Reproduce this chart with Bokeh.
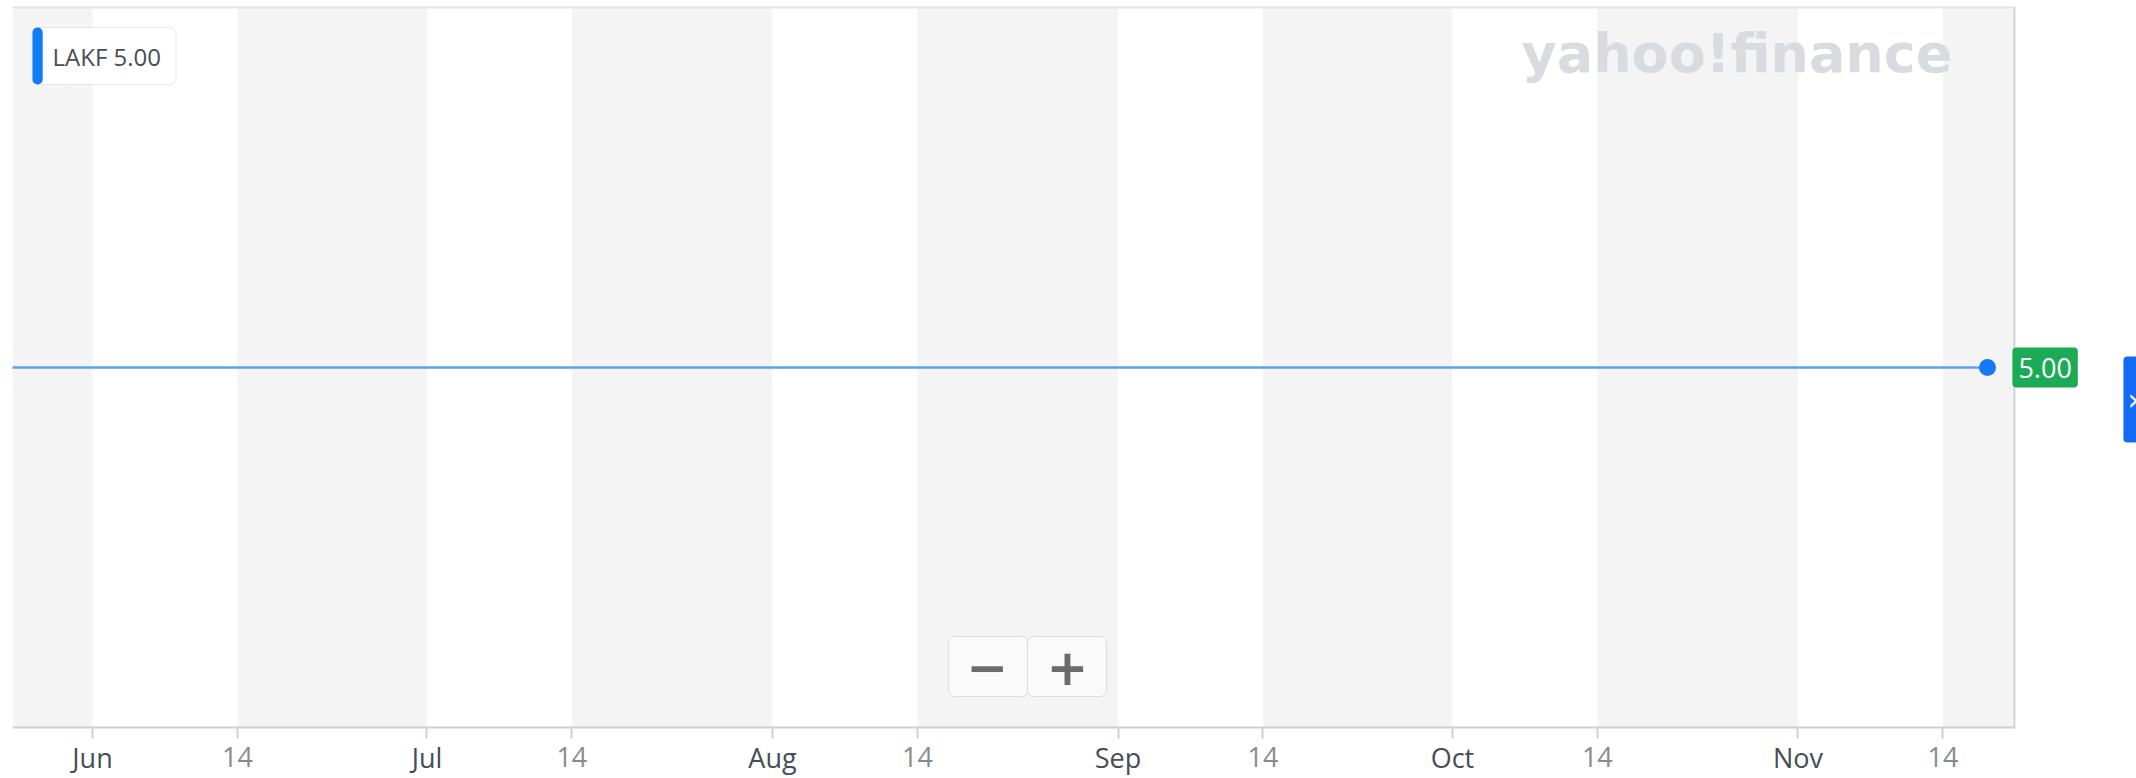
import pandas as pd
from bokeh.plotting import figure
from bokeh.models import Range1d, FixedTicker, DatetimeAxis, Label
from bokeh.embed import file_html
from bokeh.resources import INLINE

# ---------------- data ----------------
SYMBOL = "LAKF"
LAST_PRICE = 5.00
PRICE_DATES = ["2021-05-20", "2021-06-15", "2021-07-15", "2021-08-16",
               "2021-09-15", "2021-10-15", "2021-11-18"]
PRICES = [5.00, 5.00, 5.00, 5.00, 5.00, 5.00, 5.00]
TICK_DATES = ["2021-06-01", "2021-06-14", "2021-07-01", "2021-07-14",
              "2021-08-01", "2021-08-14", "2021-09-01", "2021-09-14",
              "2021-10-01", "2021-10-14", "2021-11-01", "2021-11-14"]
TICK_LABELS = ["Jun", "14", "Jul", "14", "Aug", "14", "Sep", "14",
               "Oct", "14", "Nov", "14"]
X_START = "2021-05-24 19:40"   # left edge of the chart area
X_END = "2021-11-20 10:00"     # right edge of the chart area
VIEW_END = "2021-12-01 08:50"  # right edge of the canvas (room for price tag)
Y_MIN, Y_MAX = 4.0, 6.0


def ms(s):
    return float(pd.Timestamp(s).value // 10**6)


FONT = "Open Sans"

p = figure(width=2136, height=778, x_axis_type="datetime",
           x_range=Range1d(ms(X_START), ms(VIEW_END)),
           y_range=Range1d(Y_MIN, Y_MAX),
           output_backend="svg", toolbar_location=None,
           y_axis_location=None,
           min_border_left=12, min_border_right=0,
           min_border_top=6, min_border_bottom=0)
p.xgrid.visible = False
p.ygrid.visible = False
p.outline_line_color = None
p.background_fill_color = "white"
p.border_fill_color = "white"

# alternating bands (gray between every other pair of tick dates)
bounds = [X_START] + TICK_DATES + [X_END]
lefts = [ms(b) for b in bounds[:-1]][::2]
rights = [ms(b) for b in bounds[1:]][::2]
p.quad(left=lefts, right=rights, bottom=Y_MIN, top=Y_MAX,
       fill_color="#f4f4f4", line_color=None)

# chart-area borders (top, right, bottom axis line)
p.segment(x0=[ms(X_START)], y0=[Y_MAX], x1=[ms(X_END)], y1=[Y_MAX],
          line_color="#e4e4e4", line_width=4)
p.segment(x0=[ms(X_END)], y0=[Y_MIN], x1=[ms(X_END)], y1=[Y_MAX],
          line_color="#d2d2d2", line_width=2)
p.segment(x0=[ms(X_START)], y0=[Y_MIN], x1=[ms(X_END)], y1=[Y_MIN],
          line_color="#cfcfcf", line_width=4)

# price line and last point
xs = [pd.Timestamp(d) for d in PRICE_DATES]
p.line(xs, PRICES, line_color="#5ca0f2", line_width=2.5)
p.scatter([xs[-1]], [PRICES[-1]], size=17, fill_color="#1479f2", line_color=None)

# axis: months (dark) and mid-month days (light)
tick_ms = [ms(d) for d in TICK_DATES]
axA = p.xaxis[0]
axA.ticker = FixedTicker(ticks=tick_ms)
axA.major_label_overrides = {t: (lab if not lab.isdigit() else "")
                             for t, lab in zip(tick_ms, TICK_LABELS)}
axA.axis_line_color = None
axA.major_tick_line_color = "#cfcfcf"
axA.major_tick_line_width = 2
axA.major_tick_in = 0
axA.major_tick_out = 10
axA.minor_tick_line_color = None
axA.major_label_standoff = 0
axA.major_label_text_font = FONT
axA.major_label_text_font_size = "27px"
axA.major_label_text_color = "#464e56"

day_ticks = [t for t, lab in zip(tick_ms, TICK_LABELS) if lab.isdigit()]
axB = DatetimeAxis(ticker=FixedTicker(ticks=day_ticks),
                   major_label_overrides={t: lab for t, lab in zip(tick_ms, TICK_LABELS) if lab.isdigit()},
                   axis_line_color=None, major_tick_line_color=None,
                   major_tick_in=0, major_tick_out=0, minor_tick_line_color=None,
                   major_label_standoff=-32,
                   major_label_text_font=FONT, major_label_text_font_size="27px",
                   major_label_text_color="#878b90")
p.add_layout(axB, "below")

# legend box
p.add_layout(Label(x=ms(X_START), y=Y_MAX, x_offset=20, y_offset=-21,
                   text=f"{SYMBOL} {LAST_PRICE:.2f}", text_font=FONT,
                   text_font_size="24px", text_color="#464e56",
                   text_align="left", text_baseline="top",
                   background_fill_color="white", border_line_color="#e9e9e9",
                   padding=dict(left=20, right=15, top=12, bottom=12),
                   border_radius=6))
p.add_layout(Label(x=ms(X_START), y=Y_MAX, x_offset=20, y_offset=-21,
                   text=" ", text_font=FONT, text_font_size="24px",
                   text_align="left", text_baseline="top",
                   background_fill_color="#0f7ef5",
                   padding=dict(left=3, right=1, top=12, bottom=12),
                   border_radius=5))

# watermark
p.add_layout(Label(x=ms(X_END), y=Y_MAX, x_offset=-62, y_offset=-15,
                   text="yahoo!finance", text_font="DejaVu Sans",
                   text_font_style="bold", text_font_size="54px",
                   text_color="#d8dbdf", text_align="right", text_baseline="top"))

# last price tag
p.add_layout(Label(x=ms(X_END), y=LAST_PRICE, x_offset=-2,
                   text=f"{LAST_PRICE:.2f}", text_font=FONT, text_font_size="27px",
                   text_color="white", text_align="left", text_baseline="middle",
                   background_fill_color="#1bab56",
                   padding=dict(left=6, right=6, top=10, bottom=10),
                   border_radius=4))

# side tab
p.add_layout(Label(x=ms(X_END), y=LAST_PRICE, x_offset=109, y_offset=11,
                   text="\u203a", text_font="DejaVu Sans", text_font_size="30px",
                   text_color="white", text_align="left", text_baseline="top",
                   background_fill_color="#126af5",
                   padding=dict(left=4, right=20, top=25, bottom=26),
                   border_radius=4))

# zoom buttons
p.add_layout(Label(x=1015, y=32, x_units="screen", y_units="screen",
                   text="\u2212", text_font="DejaVu Sans", text_font_style="bold",
                   text_font_size="50px", text_color="#6b6b6b",
                   text_align="right", text_baseline="bottom",
                   background_fill_color="#fafafa", border_line_color="#dcdcdc",
                   padding=dict(left=18, right=19, top=12, bottom=12),
                   border_radius=6))
p.add_layout(Label(x=1015, y=32, x_units="screen", y_units="screen",
                   text="+", text_font="DejaVu Sans", text_font_style="bold",
                   text_font_size="50px", text_color="#6b6b6b",
                   text_align="left", text_baseline="bottom",
                   background_fill_color="#fafafa", border_line_color="#dcdcdc",
                   padding=dict(left=19, right=18, top=12, bottom=12),
                   border_radius=6))

open("out.html", "w").write(file_html(p, INLINE))
